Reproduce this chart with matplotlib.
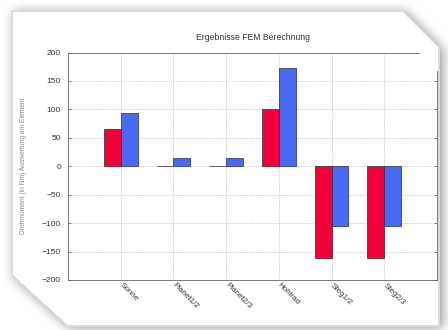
import numpy as np
import matplotlib.pyplot as plt
from matplotlib.path import Path

plt.rcParams['font.family'] = ['Liberation Sans', 'DejaVu Sans']

# Drehmomente je Bauteil, zwei Berechnungsfaelle
kategorien = ['Sonne', 'Planet1/2', 'Planet2/3', 'Hohlrad', 'Steg1/2', 'Steg2/3']
werte_rot = [65, 0.5, 0.5, 100, -161, -161]
werte_blau = [93, 15, 15, 172, -105, -105]
y_ticks = [-200, -150, -100, -50, 0, 50, 100, 150, 200]

W, H = 448, 330
fig = plt.figure(figsize=(W/100, H/100), dpi=100, facecolor='white')

ax = fig.add_axes([68/W, 1-280/H, 369/W, 227.5/H])
x = np.arange(1, len(kategorien)+1)
b = 0.32
ax.bar(x - b/2, werte_rot, b, color='#f2003a', edgecolor='#3a2030', linewidth=0.5, zorder=3)
ax.bar(x + b/2, werte_blau, b, color='#4a6af2', edgecolor='#202a50', linewidth=0.5, zorder=3)

ax.set_xlim(0, 7)
ax.set_ylim(-200, 200)
ax.set_yticks(y_ticks)
ax.set_xticks(x)
ax.set_xticklabels(kategorien, rotation=-45, ha='left', va='center',
                   rotation_mode='anchor', fontsize=5.8, color='#333333')
ax.tick_params(axis='y', labelsize=6, labelcolor='#333333', pad=5)
ax.tick_params(direction='in', length=2, width=0.5, color='#555555',
               right=True, top=False)
ax.tick_params(axis='x', pad=3, length=0)
ax.grid(True, linestyle=(0, (1, 1.5)), color='#a8a8a8', linewidth=0.5, zorder=0)
ax.set_axisbelow(True)
for s in ax.spines.values():
    s.set_color('#666666')
    s.set_linewidth(0.6)

ax.set_title('Ergebnisse FEM Berechnung', fontsize=6.2, color='#333333', pad=9)
ax.set_ylabel('Drehmoment (in Nm) Auswertung am Element', fontsize=4.8, color='#888888')
ax.yaxis.set_label_coords(-0.111, 0.5)

# Papierblatt mit abgeschnittenen Ecken und weichem Schatten
yy, xx = np.mgrid[0:H, 0:W] + 0.5
pts = np.c_[xx.ravel(), yy.ravel()]
blatt = Path([(11, 10), (402, 10), (440, 48), (440, 327), (68, 327), (11, 275)])
innen = blatt.contains_points(pts).reshape(H, W).astype(float)

def weich(a, r):
    k = np.ones(2*r+1) / (2*r+1)
    for _ in range(2):
        a = np.apply_along_axis(lambda v: np.convolve(v, k, 'same'), 0, a)
        a = np.apply_along_axis(lambda v: np.convolve(v, k, 'same'), 1, a)
    return a

versatz = np.roll(np.roll(innen, 2, axis=0), 3, axis=1)
schatten = 1 - 0.4*weich(versatz, 6)
grau = np.where(innen > 0.5, 1.0, schatten)
# Randlinie des Blattes
rand = (innen > 0.5) & (weich(innen, 1) < 0.9)
grau = np.where(rand, 0.86, grau)

inhalt = (innen > 0.5) & (yy >= xx - 366)
rgba = np.zeros((H, W, 4))
rgba[..., 0] = rgba[..., 1] = rgba[..., 2] = grau
rgba[..., 3] = np.where(inhalt & ~rand, 0.0, 1.0)

ov = fig.add_axes([0, 0, 1, 1], zorder=10)
ov.imshow(rgba, extent=(0, W, H, 0), interpolation='bilinear')
ov.set_xlim(0, W)
ov.set_ylim(H, 0)
ov.axis('off')

fig.savefig('out.png', dpi=100, facecolor='white')
